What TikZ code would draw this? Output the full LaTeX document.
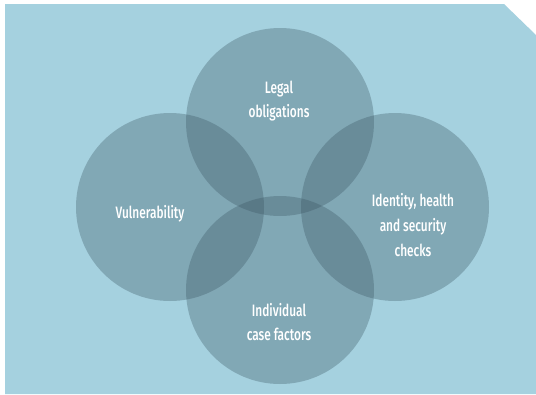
\documentclass[tikz,border=0pt]{standalone}
\usepackage{fontspec}
\setmainfont{Fira Sans}[FakeStretch=0.72,BoldFont={Fira Sans Medium},BoldFeatures={FakeStretch=0.72}]
\definecolor{panelblue}{HTML}{A5D1DF}
\definecolor{vennslate}{RGB}{58,85,98}

\begin{document}
\begin{tikzpicture}[x=1pt,y=-1pt,
    venn/.style={circle, minimum size=188pt, inner sep=0pt,
      fill=vennslate, fill opacity=0.33},
    lbl/.style={text=white, align=center,
      font=\fontsize{16.5}{24.7}\selectfont\bfseries}]
      \useasboundingbox (0,0) rectangle (536,394);
      % panel with clipped corner
      \fill [panelblue] (5,4) -- (504,4) -- (536,35) -- (536,394)
      -- (5,394) -- cycle;
      % the four circles
      \node [venn] (legal) at (280,122) {}; \node [venn] (vuln) at
      (170,207) {}; \node [venn] (checks) at (395,207) {}; \node
      [venn] (indiv) at (280,290) {};
      % labels
      \node [lbl] (legaltxt) at (279,101) {Legal\\obligations};
      \node [lbl] (vulntxt) at (150,214) {Vulnerability}; \node [lbl]
      (checkstxt) at (413,225) {Identity, health\\and security\\checks};
      \node [lbl] (indivtxt) at (279,322) {Individual\\case factors};
    \end{tikzpicture}
\end{document}
